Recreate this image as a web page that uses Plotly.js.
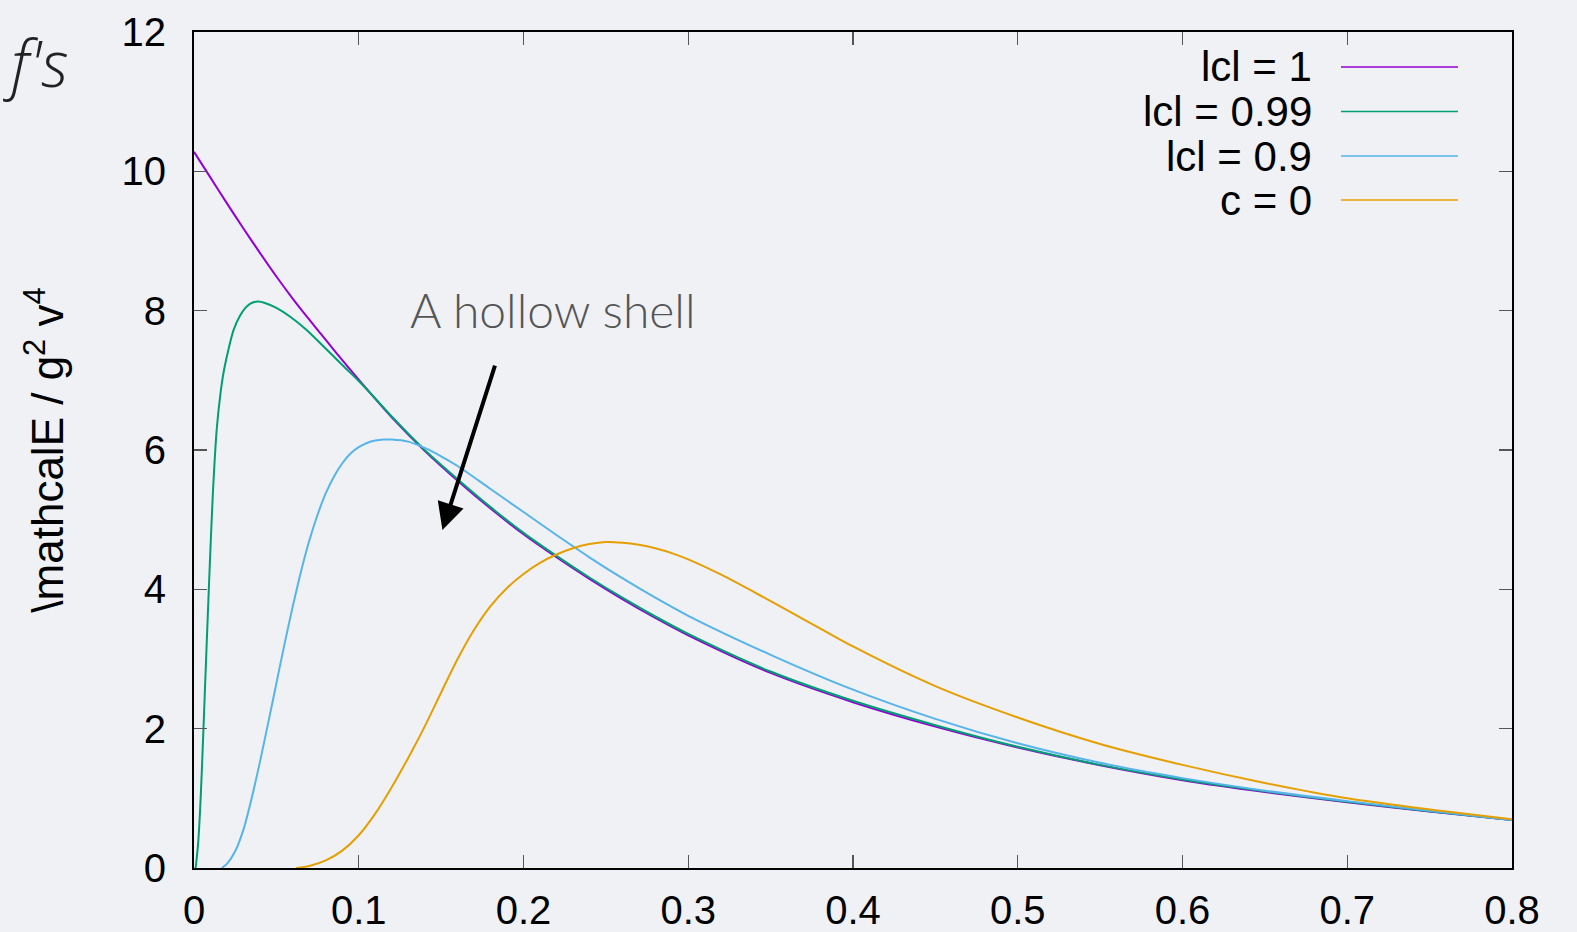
<!DOCTYPE html>
<html>
<head>
<meta charset="utf-8">
<script src="https://cdn.plot.ly/plotly-3.0.1.min.js"></script>
<style>
  html, body { margin: 0; padding: 0; background: #eff1f5; }
  #chart { width: 1577px; height: 932px; }
</style>
</head>
<body>
<div id="chart"></div>
<script>
// ---- data ----
const seriesNames = ["lcl = 1", "lcl = 0.99", "lcl = 0.9", "c = 0"];
const seriesColors = ["#9400d3", "#009e73", "#56b4e9", "#e69f00"];

const x_c1 = [0, 0.01, 0.02, 0.03, 0.04, 0.05, 0.06, 0.07, 0.08, 0.09, 0.10, 0.12, 0.14, 0.16, 0.18, 0.20, 0.22, 0.24, 0.26, 0.28, 0.30, 0.35, 0.40, 0.45, 0.50, 0.55, 0.60, 0.65, 0.70, 0.75, 0.80];
const y_c1 = [10.28, 9.91, 9.54, 9.18, 8.83, 8.49, 8.17, 7.87, 7.58, 7.29, 7.01, 6.47, 5.99, 5.56, 5.16, 4.79, 4.46, 4.15, 3.86, 3.59, 3.34, 2.80, 2.38, 2.03, 1.73, 1.475, 1.26, 1.09, 0.945, 0.81, 0.69];

const x_c099 = [0.001, 0.0025, 0.004, 0.0055, 0.0067, 0.008, 0.0097, 0.0115, 0.0138, 0.016, 0.018, 0.021, 0.024, 0.028, 0.032, 0.036, 0.039, 0.043, 0.05, 0.058, 0.068, 0.0785, 0.09, 0.10, 0.11, 0.12, 0.14, 0.16, 0.18, 0.20, 0.22, 0.24, 0.26, 0.28, 0.30, 0.35, 0.40, 0.45, 0.50, 0.55, 0.60, 0.65, 0.70, 0.75, 0.80];
const y_c099 = [0, 0.35, 0.98, 1.85, 2.60, 3.40, 4.42, 5.40, 6.30, 6.80, 7.12, 7.45, 7.72, 7.93, 8.06, 8.12, 8.13, 8.11, 8.04, 7.92, 7.73, 7.49, 7.22, 6.99, 6.74, 6.48, 6.00, 5.58, 5.18, 4.81, 4.48, 4.17, 3.88, 3.61, 3.36, 2.82, 2.40, 2.05, 1.74, 1.48, 1.27, 1.10, 0.95, 0.815, 0.69];

const x_c09 = [0.0168, 0.02, 0.025, 0.03, 0.035, 0.04, 0.045, 0.05, 0.055, 0.06, 0.065, 0.07, 0.075, 0.08, 0.085, 0.09, 0.095, 0.10, 0.105, 0.11, 0.115, 0.12, 0.13, 0.14, 0.15, 0.16, 0.18, 0.20, 0.22, 0.24, 0.26, 0.28, 0.30, 0.35, 0.40, 0.45, 0.50, 0.55, 0.60, 0.65, 0.70, 0.75, 0.80];
const y_c09 = [0, 0.06, 0.24, 0.55, 1.00, 1.52, 2.08, 2.65, 3.22, 3.76, 4.26, 4.70, 5.07, 5.38, 5.62, 5.81, 5.95, 6.04, 6.10, 6.135, 6.15, 6.15, 6.12, 6.03, 5.91, 5.77, 5.44, 5.11, 4.78, 4.46, 4.16, 3.88, 3.62, 3.06, 2.56, 2.14, 1.79, 1.51, 1.29, 1.11, 0.96, 0.82, 0.69];

const x_c0 = [0.062, 0.07, 0.08, 0.09, 0.10, 0.11, 0.12, 0.13, 0.14, 0.15, 0.16, 0.17, 0.18, 0.19, 0.20, 0.21, 0.22, 0.23, 0.24, 0.25, 0.26, 0.27, 0.28, 0.29, 0.30, 0.32, 0.34, 0.36, 0.38, 0.40, 0.45, 0.50, 0.55, 0.60, 0.65, 0.70, 0.75, 0.80];
const y_c0 = [0, 0.03, 0.11, 0.25, 0.47, 0.78, 1.16, 1.58, 2.03, 2.52, 3.00, 3.42, 3.76, 4.02, 4.22, 4.38, 4.50, 4.59, 4.65, 4.68, 4.67, 4.64, 4.59, 4.52, 4.43, 4.21, 3.96, 3.70, 3.44, 3.18, 2.61, 2.16, 1.78, 1.48, 1.22, 1.00, 0.84, 0.70];

const xTickVals = [0, 0.1, 0.2, 0.3, 0.4, 0.5, 0.6, 0.7, 0.8];
const xTickText = ["0", "0.1", "0.2", "0.3", "0.4", "0.5", "0.6", "0.7", "0.8"];
const yTickVals = [0, 2, 4, 6, 8, 10, 12];
const yTickText = ["0", "2", "4", "6", "8", "10", "12"];

const yTitle = "\\mathcalE / g<sup>2</sup> v<sup>4</sup>";
const cornerLabel = "f's";
const noteText = "A hollow shell";
const noteX = 0.218, noteY = 8.01;
const arrowTipX = 0.1508, arrowTipY = 4.85;

// ---- build the figure ----
const xs = [x_c1, x_c099, x_c09, x_c0];
const ys = [y_c1, y_c099, y_c09, y_c0];
const traces = seriesNames.map((n, i) => ({
  type: "scatter", mode: "lines", name: n,
  x: xs[i], y: ys[i],
  line: { color: seriesColors[i], width: 2, shape: "spline", smoothing: 0.8 },
  showlegend: false
}));

const M = { l: 194, r: 65, t: 32, b: 64 };
const W = 1577, H = 932;
const pw = W - M.l - M.r, ph = H - M.t - M.b;
const px2paperX = p => (p - M.l) / pw;
const px2paperY = p => (H - M.b - p) / ph;

const tickFont = { family: "Liberation Sans, Arial, sans-serif", size: 40, color: "#000" };
const legendFont = { family: "Liberation Sans, Arial, sans-serif", size: 42, color: "#000" };

const annotations = [
  { xref: "paper", yref: "paper", x: px2paperX(36), y: px2paperY(62), text: cornerLabel,
    showarrow: false, xanchor: "center", yanchor: "middle",
    font: { family: "Open Sans, sans-serif", size: 64, color: "#222", style: "italic", weight: 300 } },
  { xref: "x", yref: "y", x: noteX, y: noteY, text: noteText, showarrow: false,
    xanchor: "center", yanchor: "middle",
    font: { family: "Lato, Open Sans, sans-serif", size: 48, color: "#555", weight: 300 } },
  { xref: "x", yref: "y", x: arrowTipX, y: arrowTipY, ax: 53, ay: -166, text: "",
    showarrow: true, arrowhead: 2, arrowsize: 1.35, arrowwidth: 4, arrowcolor: "#000" }
];
const shapes = [];
const legRowsY = [67, 111.5, 156, 200];
seriesNames.forEach((n, i) => {
  annotations.push({ xref: "paper", yref: "paper", x: px2paperX(1313), y: px2paperY(legRowsY[i]),
    text: n, showarrow: false, xanchor: "right", yanchor: "middle", font: legendFont, borderpad: 0 });
  shapes.push({ type: "line", xref: "paper", yref: "paper",
    x0: px2paperX(1341), x1: px2paperX(1458), y0: px2paperY(legRowsY[i]), y1: px2paperY(legRowsY[i]),
    line: { color: seriesColors[i], width: 1.5 } });
});

const axisCommon = {
  showline: true, linecolor: "#000", linewidth: 2, mirror: "ticks",
  ticks: "inside", ticklen: 13, tickwidth: 1.2, tickcolor: "#555",
  showgrid: false, zeroline: false, tickfont: tickFont
};

const layout = {
  width: W, height: H, margin: M,
  paper_bgcolor: "#eff1f5", plot_bgcolor: "#eff1f5",
  showlegend: false,
  xaxis: Object.assign({}, axisCommon, { range: [0, 0.8], tickvals: xTickVals, ticktext: xTickText, ticklabelstandoff: 6 }),
  yaxis: Object.assign({}, axisCommon, { range: [0, 12], tickvals: yTickVals, ticktext: yTickText, ticklabelstandoff: 18,
    title: { text: yTitle, font: { family: "Liberation Sans, Arial, sans-serif", size: 44, color: "#000" }, standoff: 44 } }),
  annotations: annotations, shapes: shapes
};

Plotly.newPlot("chart", traces, layout, { staticPlot: true, displayModeBar: false });
</script>
</body>
</html>
